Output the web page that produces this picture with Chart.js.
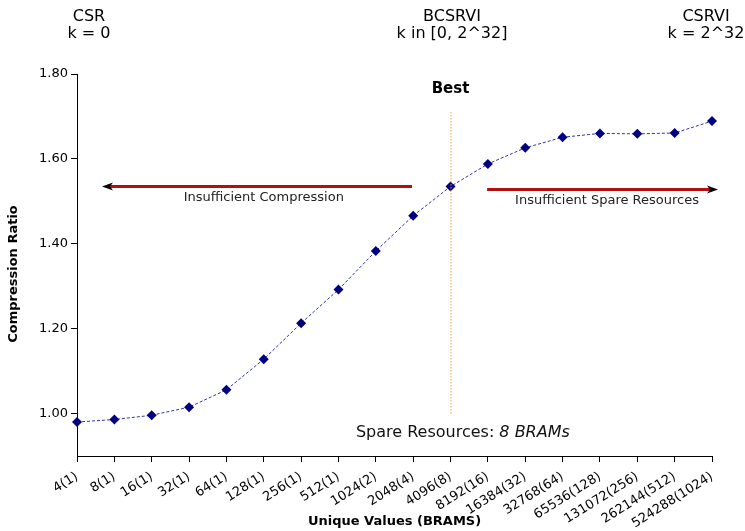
<!DOCTYPE html>
<html>
<head>
<meta charset="utf-8">
<script src="https://cdn.jsdelivr.net/npm/chart.js@4.4.1/dist/chart.umd.min.js"></script>
<style>
html,body{margin:0;padding:0;background:#fff;}
#wrap{width:745px;height:531px;position:relative;}
</style>
</head>
<body>
<div id="wrap"><canvas id="c" width="745" height="531"></canvas></div>
<script>
// ---- data ----
const categories = ['4(1)','8(1)','16(1)','32(1)','64(1)','128(1)','256(1)','512(1)','1024(2)','2048(4)','4096(8)','8192(16)','16384(32)','32768(64)','65536(128)','131072(256)','262144(512)','524288(1024)'];
const compressionRatio = [0.980,0.986,0.996,1.015,1.056,1.128,1.213,1.292,1.383,1.466,1.535,1.588,1.626,1.651,1.660,1.659,1.661,1.689];
const yTickValues = [1.00,1.20,1.40,1.60,1.80];
const headerTitles = ['CSR','BCSRVI','CSRVI'];
const headerSubtitles = ['k = 0','k in [0, 2^32]','k = 2^32'];
const bestCategory = '4096(8)';
const bestLineRange = [1.00, 1.71];
const leftArrow = {fromIdx: 8.97, toIdx: 0.67, value: 1.536, label: 'Insufficient Compression', labelIdx: 5.0, labelValue: 1.508};
const rightArrow = {fromIdx: 10.98, toIdx: 17.16, value: 1.530, label: 'Insufficient Spare Resources', labelIdx: 14.19, labelValue: 1.502};
const spareLabel = ['Spare Resources: ', '8 BRAMs'];

const FONT = "'DejaVu Sans', sans-serif";

function drawArrow(ctx, x1, x2, y) {
  ctx.save();
  ctx.strokeStyle = '#b01010';
  ctx.lineWidth = 3;
  const dir = Math.sign(x2 - x1);
  ctx.beginPath();
  ctx.moveTo(x1, y);
  ctx.lineTo(x2 - dir * 6, y);
  ctx.stroke();
  ctx.fillStyle = '#000';
  ctx.beginPath();
  ctx.moveTo(x2, y);
  ctx.lineTo(x2 - dir * 11, y - 4);
  ctx.lineTo(x2 - dir * 8, y);
  ctx.lineTo(x2 - dir * 11, y + 4);
  ctx.closePath();
  ctx.fill();
  ctx.restore();
}

const annotations = {
  id: 'annotations',
  afterDatasetsDraw(chart) {
    const ctx = chart.ctx;
    const xs = chart.scales.x, ys = chart.scales.y;
    const bx = xs.getPixelForValue(categories.indexOf(bestCategory));
    ctx.save();
    ctx.strokeStyle = '#f0a030';
    ctx.lineWidth = 1;
    ctx.setLineDash([1.5, 1.5]);
    ctx.beginPath();
    ctx.moveTo(bx + 0.5, ys.getPixelForValue(bestLineRange[0]));
    ctx.lineTo(bx + 0.5, ys.getPixelForValue(bestLineRange[1]));
    ctx.stroke();
    ctx.restore();
  },
  afterDraw(chart) {
    const ctx = chart.ctx;
    const xs = chart.scales.x, ys = chart.scales.y;
    ctx.save();
    [leftArrow, rightArrow].forEach(a => {
      drawArrow(ctx, xs.getPixelForValue(a.fromIdx), xs.getPixelForValue(a.toIdx), Math.round(ys.getPixelForValue(a.value)) + 0.5);
      ctx.fillStyle = '#222';
      ctx.font = '13px ' + FONT;
      ctx.textAlign = 'center';
      ctx.textBaseline = 'middle';
      ctx.fillText(a.label, xs.getPixelForValue(a.labelIdx), ys.getPixelForValue(a.labelValue));
    });
    ctx.fillStyle = '#000';
    ctx.font = 'bold 15px ' + FONT;
    ctx.textAlign = 'center';
    ctx.textBaseline = 'middle';
    ctx.fillText('Best', xs.getPixelForValue(categories.indexOf(bestCategory)), ys.getPixelForValue(1.765));
    ctx.font = '16px ' + FONT;
    const w1 = ctx.measureText(spareLabel[0]).width;
    ctx.font = 'italic 16px ' + FONT;
    const w2 = ctx.measureText(spareLabel[1]).width;
    const cx = xs.getPixelForValue(10.33);
    const cy = ys.getPixelForValue(0.955);
    ctx.textAlign = 'left';
    ctx.fillStyle = '#111';
    ctx.font = '16px ' + FONT;
    ctx.fillText(spareLabel[0], cx - (w1 + w2) / 2, cy);
    ctx.font = 'italic 16px ' + FONT;
    ctx.fillText(spareLabel[1], cx - (w1 + w2) / 2 + w1, cy);
    // header
    const hx = [89, 452, 706];
    ctx.font = '16px ' + FONT;
    ctx.textAlign = 'center';
    ctx.fillStyle = '#000';
    headerTitles.forEach((t, i) => {
      ctx.fillText(t, hx[i], 17);
      ctx.fillText(headerSubtitles[i], hx[i], 34);
    });
    // y axis title
    ctx.save();
    ctx.translate(14, 274);
    ctx.rotate(-Math.PI / 2);
    ctx.font = 'bold 13px ' + FONT;
    ctx.fillText('Compression Ratio', 0, 0);
    ctx.restore();
    ctx.restore();
  }
};

new Chart(document.getElementById('c'), {
  type: 'line',
  data: {
    labels: categories,
    datasets: [{
      data: compressionRatio,
      borderColor: '#3030b0',
      borderWidth: 1,
      borderDash: [3, 2],
      pointStyle: 'rectRot',
      pointRadius: 5,
      pointHoverRadius: 5,
      pointBackgroundColor: '#000080',
      pointBorderColor: '#000080',
      pointBorderWidth: 0,
      tension: 0,
      fill: false
    }]
  },
  options: {
    responsive: false,
    animation: false,
    devicePixelRatio: 1,
    layout: {padding: {top: 74, right: 33, left: 0, bottom: 0}},
    plugins: {legend: {display: false}, tooltip: {enabled: false}},
    scales: {
      x: {
        type: 'category',
        offset: false,
        grid: {drawOnChartArea: false, drawTicks: true, tickLength: 6, color: '#000'},
        border: {display: true, color: '#000', width: 1},
        ticks: {color: '#000', font: {family: FONT, size: 13}, maxRotation: 32, minRotation: 32, autoSkip: false, padding: 7},
        title: {display: true, text: 'Unique Values (BRAMS)', color: '#000', font: {family: FONT, size: 13, weight: 'bold'}, padding: {top: 0, bottom: 2}},
        afterFit(scale) { scale.height = 75; }
      },
      y: {
        min: 0.9,
        max: 1.8,
        grid: {drawOnChartArea: false, drawTicks: true, tickLength: 6, color: '#000'},
        border: {display: true, color: '#000', width: 1},
        afterBuildTicks(scale) { scale.ticks = yTickValues.map(v => ({value: v})); },
        ticks: {color: '#000', font: {family: FONT, size: 13}, padding: 3, callback: v => Number(v).toFixed(2)},
        title: {display: false},
        afterFit(scale) { scale.width = 77; }
      }
    }
  },
  plugins: [annotations]
});
</script>
</body>
</html>
